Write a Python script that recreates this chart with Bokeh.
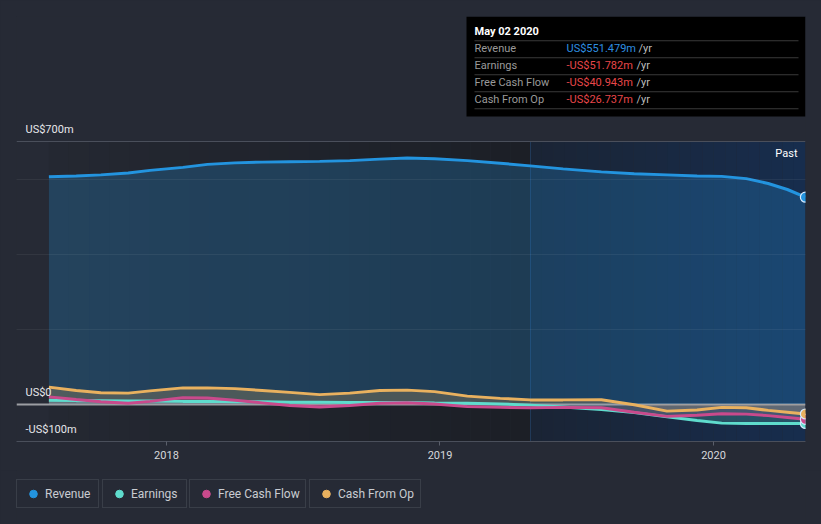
from bokeh.plotting import figure
from bokeh.layouts import column
from bokeh.models import (Label, Legend, LegendItem, BoxAnnotation,
                          FixedTicker, Range1d, CustomJSTickFormatter)
from bokeh.embed import file_html
from bokeh.resources import INLINE

# ---------------- data (US$ millions, x in decimal years) ----------------
t = [2017.57, 2017.67, 2017.76, 2017.86, 2017.94, 2018.06, 2018.15, 2018.25,
     2018.35, 2018.45, 2018.56, 2018.67, 2018.78, 2018.88, 2018.98, 2019.10,
     2019.22, 2019.33, 2019.45, 2019.59, 2019.71, 2019.83, 2019.94, 2020.03,
     2020.12, 2020.20, 2020.27, 2020.336]
revenue = [606, 608, 611, 616, 623, 631, 639, 643, 645, 646, 647, 649, 653, 656,
           654, 649, 642, 635, 627, 619, 614, 611, 608, 607, 601, 588, 572, 551.5]
earnings = [10, 9, 9, 8, 8, 7, 7, 6, 6, 5, 5, 4, 4, 4, 3, 2, 0, -3, -8, -15,
            -23, -34, -44, -51, -52, -52, -52, -51.8]
fcf = [19, 12, 6, 2, 7, 17, 16, 10, 3, -4, -8, -4, 2, 3.5, 0, -7, -9, -10, -9,
       -10, -22, -33, -30, -26, -27, -31, -36, -40.9]
cfo = [45, 36, 30, 29, 35, 43, 43, 41, 36, 31, 25, 29, 36, 37, 33, 21, 15, 11,
       11, 11.5, -2, -19, -16, -9, -10, -17, -22, -26.7]

x_ticks = [2018, 2019, 2020]
y_label_vals = [700, 0, -100]
y_label_texts = ["US$700m", "US$0", "-US$100m"]
grid_vals = [200, 400, 600]
y_top, y_bottom = 700, -100
past_start = 2019.331

series_names = ["Revenue", "Earnings", "Free Cash Flow", "Cash From Op"]
tooltip_date = "May 02 2020"
tooltip_vals = ["US$551.479m", "-US$51.782m", "-US$40.943m", "-US$26.737m"]

# ---------------- styles ----------------
FONT = "Roboto"
BG = "#262a35"
C_REV = "#2394df"
C_EARN = "#5fdccd"
C_FCF = "#c94a8c"
C_CFO = "#e9b15f"
colors = [C_REV, C_EARN, C_FCF, C_CFO]

# main figure: frame spans page y 16..441 (y_top at 141), x 16..805
p = figure(width=821, height=470, output_backend="svg", toolbar_location=None,
           x_range=Range1d(2017.4516, 2020.3364),
           y_range=Range1d(y_bottom, y_top + 125 / 0.375),
           min_border_left=16, min_border_right=16, min_border_top=16,
           min_border_bottom=29, styles={"background-color": BG})
p.background_fill_color = BG
p.border_fill_color = BG
p.outline_line_color = None
p.yaxis.visible = False
p.xgrid.visible = False
p.ygrid.ticker = FixedTicker(ticks=grid_vals)
p.ygrid.grid_line_color = "#ffffff"
p.ygrid.grid_line_alpha = 0.06
p.ygrid.level = "annotation"

ax = p.xaxis[0]
ax.ticker = FixedTicker(ticks=x_ticks)
ax.formatter = CustomJSTickFormatter(code="return String(Math.round(tick));")
ax.axis_line_color = "#4a4f5b"
ax.major_tick_line_color = "#5a5f6b"
ax.major_tick_in = 0
ax.major_tick_out = 4
ax.minor_tick_line_color = None
ax.major_label_text_color = "#d6d8dc"
ax.major_label_text_font = FONT
ax.major_label_text_font_size = "11px"
ax.major_label_standoff = 5


def hex2rgb(h):
    return tuple(int(h[i:i + 2], 16) for i in (1, 3, 5))


def blend(c1, c2, f):
    a, b = hex2rgb(c1), hex2rgb(c2)
    return "#%02x%02x%02x" % tuple(round(a[i] + (b[i] - a[i]) * f) for i in range(3))


# background shading: history (dark) and past-year (blue) regions
n = 24
x0, x1 = t[0], past_start
for i in range(n):
    l = x0 + (x1 - x0) * i / n
    r = x0 + (x1 - x0) * (i + 1) / n
    p.quad(left=l, right=r, bottom=y_bottom, top=y_top, line_alpha=0,
           fill_color=blend("#242832", "#1c1f26", i / (n - 1)))
x0, x1 = past_start, t[-1]
for i in range(n):
    l = x0 + (x1 - x0) * i / n
    r = x0 + (x1 - x0) * (i + 1) / n
    p.quad(left=l, right=r, bottom=y_bottom, top=y_top, line_alpha=0,
           fill_color=blend("#1a2435", "#172d4d", i / (n - 1)))

# boundary between history and last year
p.segment(x0=[past_start], y0=[y_bottom], x1=[past_start], y1=[y_top],
          line_color="#223a5a", line_width=1)

# zero line (below fills)
p.hspan(y=[0], line_color="#9c9ea3", line_width=2)

# areas
p.varea(x=t, y1=revenue, y2=0, fill_color=C_REV, fill_alpha=0.25)
p.varea(x=t, y1=cfo, y2=0, fill_color=C_CFO, fill_alpha=0.22)
p.varea(x=t, y1=fcf, y2=0, fill_color=C_FCF, fill_alpha=0.22)
p.varea(x=t, y1=earnings, y2=0, fill_color=C_EARN, fill_alpha=0.22)

# lines
for ys, c in [(earnings, C_EARN), (fcf, C_FCF), (cfo, C_CFO), (revenue, C_REV)]:
    p.line(x=t, y=ys, line_color=c, line_width=3)

# end markers
for ys, c in [(earnings, C_EARN), (fcf, C_FCF), (cfo, C_CFO), (revenue, C_REV)]:
    p.scatter(x=[t[-1]], y=[ys[-1]], size=10, fill_color=c,
              line_color="#d8ecff", line_width=1.2)

# top border line of the chart area
p.hspan(y=[y_top], line_color="#4a4f5b", line_width=1)

# y labels
for v, s in zip(y_label_vals, y_label_texts):
    p.add_layout(Label(x=9, x_units="screen", y=v, y_units="data", y_offset=12,
                       text=s, text_color="#e6e7ea", text_font=FONT,
                       text_font_size="11px", text_baseline="middle"))

p.add_layout(Label(x=781, y=288, x_units="screen", y_units="screen", text="Past",
                   text_color="#ffffff", text_font=FONT,
                   text_font_size="11px", text_align="right",
                   text_baseline="middle"))

# tooltip box
p.add_layout(BoxAnnotation(left=450, right=789, top=425, bottom=325,
                           left_units="screen", right_units="screen",
                           top_units="screen", bottom_units="screen",
                           fill_color="#000000", fill_alpha=1, line_alpha=0))
for sy in [400.7, 383.7, 366.7, 349.7, 332.7]:
    p.add_layout(BoxAnnotation(left=458, right=782, top=sy + 0.5, bottom=sy - 0.5,
                               left_units="screen", right_units="screen",
                               top_units="screen", bottom_units="screen",
                               fill_color="#3a3a3a", fill_alpha=1, line_alpha=0))
p.add_layout(Label(x=458, y=410, x_units="screen", y_units="screen",
                   text=tooltip_date, text_color="#ffffff", text_font=FONT,
                   text_font_size="11px", text_font_style="bold",
                   text_baseline="middle"))
row_y = [393, 376, 359, 342]
yr_x = [622, 620, 620, 620]
for i, (name, val) in enumerate(zip(series_names, tooltip_vals)):
    p.add_layout(Label(x=458, y=row_y[i], x_units="screen", y_units="screen",
                       text=name, text_color="#9a9a9a", text_font=FONT,
                       text_font_size="11px", text_baseline="middle"))
    p.add_layout(Label(x=550, y=row_y[i], x_units="screen", y_units="screen",
                       text=val, text_color=("#2e8fe0" if i == 0 else "#e8474a"),
                       text_font=FONT, text_font_size="11px",
                       text_font_style="normal", text_baseline="middle"))
    p.add_layout(Label(x=yr_x[i], y=row_y[i], x_units="screen", y_units="screen",
                       text="/yr", text_color="#bdbdbd", text_font=FONT,
                       text_font_size="11px", text_baseline="middle"))

# legend strip (separate figure below; its frame aligns with the main frame)
lf = figure(width=821, height=54, output_backend="svg", toolbar_location=None,
            x_range=Range1d(0, 1), y_range=Range1d(0, 1),
            min_border=0, min_border_left=0, min_border_right=0,
            min_border_top=0, min_border_bottom=0,
            styles={"background-color": BG})
lf.axis.visible = False
lf.grid.visible = False
lf.outline_line_color = None
lf.background_fill_color = BG
lf.border_fill_color = BG

legend_x = [0, 86, 173, 293]
label_w = [49, 51, 83, 78]
for name, c, lx, lw in zip(series_names, colors, legend_x, label_w):
    # marker placed outside the visible range; only its legend swatch is seen
    r = lf.scatter(x=[-10], y=[-10], size=8, fill_color=c, line_color=c)
    lg = Legend(items=[LegendItem(label=name, renderers=[r])], location=(lx, 16),
                padding=4, margin=0, spacing=0, glyph_width=24, glyph_height=19,
                label_standoff=0, label_width=lw, label_height=19,
                label_text_font=FONT, label_text_font_size="12px",
                label_text_color="#c9ccd1", border_line_color="#4c515c",
                border_line_width=1, background_fill_color=BG,
                background_fill_alpha=1)
    lf.add_layout(lg)

layout = column(p, lf, spacing=0, styles={"background-color": BG})
html = file_html(layout, INLINE)
html = html.replace("<body>", '<body style="background-color:%s;">' % BG, 1)
open("out.html", "w").write(html)
